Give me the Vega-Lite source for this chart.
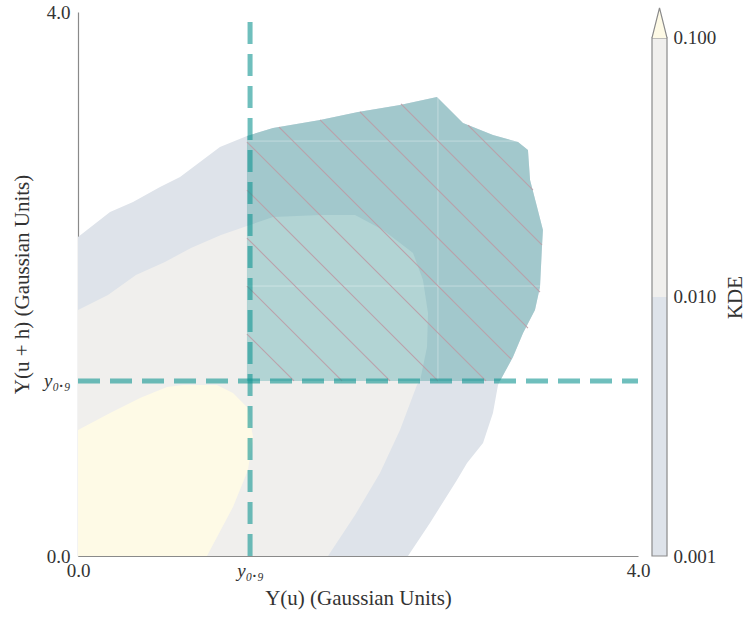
{
  "$schema": "https://vega.github.io/schema/vega-lite/v6.json",
  "width": 560,
  "height": 544,
  "autosize": "none",
  "padding": {"left": 78, "top": 12, "right": 109, "bottom": 61},
  "background": "white",
  "config": {
    "view": {"stroke": null},
    "font": "Liberation Serif",
    "axis": {
      "labelFont": "Liberation Serif",
      "titleFont": "Liberation Serif",
      "labelFontSize": 19,
      "titleFontSize": 21,
      "titleFontWeight": "normal",
      "labelColor": "#333333",
      "titleColor": "#333333",
      "domainColor": "#8a8a8a",
      "domainWidth": 1.2,
      "grid": false,
      "ticks": false,
      "zindex": 1,
      "labelFlush": false,
      "labelOverlap": false
    }
  },
  "datasets": {
    "contours": [
      {"region": "outer", "i": 0, "x": 0, "y": 0},
      {"region": "outer", "i": 1, "x": 0, "y": 2.346},
      {"region": "outer", "i": 2, "x": 0.229, "y": 2.529},
      {"region": "outer", "i": 3, "x": 0.393, "y": 2.603},
      {"region": "outer", "i": 4, "x": 0.586, "y": 2.713},
      {"region": "outer", "i": 5, "x": 0.729, "y": 2.787},
      {"region": "outer", "i": 6, "x": 1.014, "y": 3.007},
      {"region": "outer", "i": 7, "x": 1.207, "y": 3.088},
      {"region": "outer", "i": 8, "x": 1.393, "y": 3.147},
      {"region": "outer", "i": 9, "x": 1.729, "y": 3.206},
      {"region": "outer", "i": 10, "x": 2.0, "y": 3.265},
      {"region": "outer", "i": 11, "x": 2.3, "y": 3.316},
      {"region": "outer", "i": 12, "x": 2.564, "y": 3.375},
      {"region": "outer", "i": 13, "x": 2.75, "y": 3.184},
      {"region": "outer", "i": 14, "x": 2.964, "y": 3.096},
      {"region": "outer", "i": 15, "x": 3.143, "y": 3.044},
      {"region": "outer", "i": 16, "x": 3.214, "y": 2.985},
      {"region": "outer", "i": 17, "x": 3.229, "y": 2.765},
      {"region": "outer", "i": 18, "x": 3.279, "y": 2.566},
      {"region": "outer", "i": 19, "x": 3.321, "y": 2.397},
      {"region": "outer", "i": 20, "x": 3.314, "y": 2.272},
      {"region": "outer", "i": 21, "x": 3.3, "y": 1.978},
      {"region": "outer", "i": 22, "x": 3.264, "y": 1.809},
      {"region": "outer", "i": 23, "x": 3.179, "y": 1.64},
      {"region": "outer", "i": 24, "x": 3.107, "y": 1.463},
      {"region": "outer", "i": 25, "x": 3.014, "y": 1.287},
      {"region": "outer", "i": 26, "x": 3.0, "y": 1.257},
      {"region": "outer", "i": 27, "x": 2.964, "y": 1.051},
      {"region": "outer", "i": 28, "x": 2.893, "y": 0.831},
      {"region": "outer", "i": 29, "x": 2.779, "y": 0.684},
      {"region": "outer", "i": 30, "x": 2.707, "y": 0.559},
      {"region": "outer", "i": 31, "x": 2.514, "y": 0.243},
      {"region": "outer", "i": 32, "x": 2.357, "y": 0},
      {"region": "middle", "i": 0, "x": 0, "y": 0},
      {"region": "middle", "i": 1, "x": 0, "y": 1.809},
      {"region": "middle", "i": 2, "x": 0.214, "y": 1.919},
      {"region": "middle", "i": 3, "x": 0.414, "y": 2.066},
      {"region": "middle", "i": 4, "x": 0.621, "y": 2.162},
      {"region": "middle", "i": 5, "x": 0.807, "y": 2.265},
      {"region": "middle", "i": 6, "x": 1.021, "y": 2.36},
      {"region": "middle", "i": 7, "x": 1.207, "y": 2.426},
      {"region": "middle", "i": 8, "x": 1.393, "y": 2.493},
      {"region": "middle", "i": 9, "x": 1.729, "y": 2.507},
      {"region": "middle", "i": 10, "x": 1.979, "y": 2.507},
      {"region": "middle", "i": 11, "x": 2.179, "y": 2.397},
      {"region": "middle", "i": 12, "x": 2.393, "y": 2.228},
      {"region": "middle", "i": 13, "x": 2.464, "y": 2.029},
      {"region": "middle", "i": 14, "x": 2.5, "y": 1.787},
      {"region": "middle", "i": 15, "x": 2.493, "y": 1.537},
      {"region": "middle", "i": 16, "x": 2.443, "y": 1.287},
      {"region": "middle", "i": 17, "x": 2.421, "y": 1.257},
      {"region": "middle", "i": 18, "x": 2.3, "y": 0.926},
      {"region": "middle", "i": 19, "x": 2.157, "y": 0.61},
      {"region": "middle", "i": 20, "x": 1.979, "y": 0.301},
      {"region": "middle", "i": 21, "x": 1.786, "y": 0},
      {"region": "inner", "i": 0, "x": 0, "y": 0},
      {"region": "inner", "i": 1, "x": 0, "y": 0.926},
      {"region": "inner", "i": 2, "x": 0.229, "y": 1.051},
      {"region": "inner", "i": 3, "x": 0.443, "y": 1.162},
      {"region": "inner", "i": 4, "x": 0.636, "y": 1.243},
      {"region": "inner", "i": 5, "x": 0.75, "y": 1.257},
      {"region": "inner", "i": 6, "x": 0.993, "y": 1.257},
      {"region": "inner", "i": 7, "x": 1.107, "y": 1.199},
      {"region": "inner", "i": 8, "x": 1.214, "y": 1.088},
      {"region": "inner", "i": 9, "x": 1.25, "y": 0.875},
      {"region": "inner", "i": 10, "x": 1.214, "y": 0.632},
      {"region": "inner", "i": 11, "x": 1.107, "y": 0.36},
      {"region": "inner", "i": 12, "x": 0.921, "y": 0},
      {"region": "teal", "i": 0, "x": 1.207, "y": 1.287},
      {"region": "teal", "i": 1, "x": 1.207, "y": 3.088},
      {"region": "teal", "i": 2, "x": 1.393, "y": 3.147},
      {"region": "teal", "i": 3, "x": 1.729, "y": 3.206},
      {"region": "teal", "i": 4, "x": 2.0, "y": 3.265},
      {"region": "teal", "i": 5, "x": 2.3, "y": 3.316},
      {"region": "teal", "i": 6, "x": 2.564, "y": 3.375},
      {"region": "teal", "i": 7, "x": 2.75, "y": 3.184},
      {"region": "teal", "i": 8, "x": 2.964, "y": 3.096},
      {"region": "teal", "i": 9, "x": 3.143, "y": 3.044},
      {"region": "teal", "i": 10, "x": 3.214, "y": 2.985},
      {"region": "teal", "i": 11, "x": 3.229, "y": 2.765},
      {"region": "teal", "i": 12, "x": 3.279, "y": 2.566},
      {"region": "teal", "i": 13, "x": 3.321, "y": 2.397},
      {"region": "teal", "i": 14, "x": 3.314, "y": 2.272},
      {"region": "teal", "i": 15, "x": 3.3, "y": 1.978},
      {"region": "teal", "i": 16, "x": 3.264, "y": 1.809},
      {"region": "teal", "i": 17, "x": 3.179, "y": 1.64},
      {"region": "teal", "i": 18, "x": 3.107, "y": 1.463},
      {"region": "teal", "i": 19, "x": 3.014, "y": 1.287},
      {"region": "tealmid", "i": 0, "x": 1.207, "y": 1.287},
      {"region": "tealmid", "i": 1, "x": 1.207, "y": 2.426},
      {"region": "tealmid", "i": 2, "x": 1.393, "y": 2.493},
      {"region": "tealmid", "i": 3, "x": 1.729, "y": 2.507},
      {"region": "tealmid", "i": 4, "x": 1.979, "y": 2.507},
      {"region": "tealmid", "i": 5, "x": 2.179, "y": 2.397},
      {"region": "tealmid", "i": 6, "x": 2.393, "y": 2.228},
      {"region": "tealmid", "i": 7, "x": 2.464, "y": 2.029},
      {"region": "tealmid", "i": 8, "x": 2.5, "y": 1.787},
      {"region": "tealmid", "i": 9, "x": 2.493, "y": 1.537},
      {"region": "tealmid", "i": 10, "x": 2.443, "y": 1.287}
    ],
    "seams": [
      {"x": 2.571, "y": 1.287, "x2": 2.571, "y2": 3.375},
      {"x": 1.207, "y": 3.051, "x2": 3.15, "y2": 3.051},
      {"x": 1.207, "y": 1.985, "x2": 3.3, "y2": 1.985}
    ],
    "hatch": [
      {"x": 1.207, "y": 1.632, "x2": 1.543, "y2": 1.287},
      {"x": 1.207, "y": 1.985, "x2": 1.886, "y2": 1.287},
      {"x": 1.207, "y": 2.338, "x2": 2.229, "y2": 1.287},
      {"x": 1.207, "y": 2.691, "x2": 2.571, "y2": 1.287},
      {"x": 1.207, "y": 3.044, "x2": 2.914, "y2": 1.287},
      {"x": 1.436, "y": 3.154, "x2": 3.093, "y2": 1.449},
      {"x": 1.729, "y": 3.206, "x2": 3.214, "y2": 1.676},
      {"x": 2.014, "y": 3.265, "x2": 3.3, "y2": 1.941},
      {"x": 2.307, "y": 3.324, "x2": 3.314, "y2": 2.287},
      {"x": 2.786, "y": 3.169, "x2": 3.25, "y2": 2.691}
    ],
    "thresholds": [
      {"qx": 1.229, "qy": 1.287}
    ],
    "bands": [
      {"lo": 0.001, "hi": 0.01, "region": "outer"},
      {"lo": 0.01, "hi": 0.1, "region": "middle"}
    ],
    "tri": [
      {"i": 0, "cx": 0.0, "v": 0.1, "region": "inner"},
      {"i": 1, "cx": 0.5, "v": 0.1306, "region": "inner"},
      {"i": 2, "cx": 1.0, "v": 0.1, "region": "inner"}
    ]
  },
  "layer": [
    {
      "layer": [
        {
          "data": {"name": "contours"},
          "transform": [{"filter": "datum.region == 'outer'"}],
          "mark": {"type": "line", "filled": true, "strokeWidth": 0},
          "encoding": {
            "x": {
              "field": "x", "type": "quantitative",
              "scale": {"domain": [0, 4], "nice": false, "zero": false},
              "axis": {
                "title": "Y(u) (Gaussian Units)",
                "values": [0, 1.229, 4],
                "labelExpr": "datum.value == 0 ? '0.0' : datum.value == 4 ? '4.0' : 'y₀.₉'",
                "labelFontStyle": {"condition": {"test": "datum.value > 1 && datum.value < 2", "value": "italic"}, "value": "normal"},
                "labelPadding": 5,
                "titlePadding": 7
              }
            },
            "y": {
              "field": "y", "type": "quantitative",
              "scale": {"domain": [0, 4], "nice": false, "zero": false},
              "axis": {
                "title": "Y(u + h) (Gaussian Units)",
                "values": [0, 1.287, 4],
                "labelExpr": "datum.value == 0 ? '0.0' : datum.value == 4 ? '4.0' : 'y₀.₉'",
                "labelFontStyle": {"condition": {"test": "datum.value > 1 && datum.value < 2", "value": "italic"}, "value": "normal"},
                "labelPadding": 8,
                "titlePadding": 11
              }
            },
            "order": {"field": "i", "type": "quantitative"},
            "color": {
              "field": "region", "type": "nominal", "legend": null,
              "scale": {
                "domain": ["outer", "middle", "inner", "teal", "tealmid"],
                "range": ["#dee3ea", "#f0efed", "#fefae6", "#a2c8cc", "#b2d4d4"]
              }
            }
          }
        },
        {
          "data": {"name": "contours"},
          "transform": [{"filter": "datum.region == 'middle'"}],
          "mark": {"type": "line", "filled": true, "strokeWidth": 0},
          "encoding": {
            "x": {"field": "x", "type": "quantitative"},
            "y": {"field": "y", "type": "quantitative"},
            "order": {"field": "i", "type": "quantitative"},
            "color": {"field": "region", "type": "nominal", "legend": null}
          }
        },
        {
          "data": {"name": "contours"},
          "transform": [{"filter": "datum.region == 'inner'"}],
          "mark": {"type": "line", "filled": true, "strokeWidth": 0},
          "encoding": {
            "x": {"field": "x", "type": "quantitative"},
            "y": {"field": "y", "type": "quantitative"},
            "order": {"field": "i", "type": "quantitative"},
            "color": {"field": "region", "type": "nominal", "legend": null}
          }
        },
        {
          "data": {"name": "contours"},
          "transform": [{"filter": "datum.region == 'teal'"}],
          "mark": {"type": "line", "filled": true, "strokeWidth": 0},
          "encoding": {
            "x": {"field": "x", "type": "quantitative"},
            "y": {"field": "y", "type": "quantitative"},
            "order": {"field": "i", "type": "quantitative"},
            "color": {"field": "region", "type": "nominal", "legend": null}
          }
        },
        {
          "data": {"name": "contours"},
          "transform": [{"filter": "datum.region == 'tealmid'"}],
          "mark": {"type": "line", "filled": true, "strokeWidth": 0},
          "encoding": {
            "x": {"field": "x", "type": "quantitative"},
            "y": {"field": "y", "type": "quantitative"},
            "order": {"field": "i", "type": "quantitative"},
            "color": {"field": "region", "type": "nominal", "legend": null}
          }
        },
        {
          "data": {"name": "seams"},
          "mark": {"type": "rule", "color": "#ffffff", "strokeWidth": 1, "opacity": 0.35},
          "encoding": {
            "x": {"field": "x", "type": "quantitative"},
            "y": {"field": "y", "type": "quantitative"},
            "x2": {"field": "x2"},
            "y2": {"field": "y2"}
          }
        },
        {
          "data": {"name": "hatch"},
          "mark": {"type": "rule", "color": "#bb9ca6", "strokeWidth": 1.1, "opacity": 0.9},
          "encoding": {
            "x": {"field": "x", "type": "quantitative"},
            "y": {"field": "y", "type": "quantitative"},
            "x2": {"field": "x2"},
            "y2": {"field": "y2"}
          }
        },
        {
          "data": {"name": "thresholds"},
          "mark": {"type": "rule", "color": "#0f9591", "opacity": 0.6, "strokeWidth": 5, "strokeDash": [22, 10]},
          "encoding": {
            "x": {"field": "qx", "type": "quantitative"},
            "y": {"datum": 0, "type": "quantitative"},
            "y2": {"datum": 4}
          }
        },
        {
          "data": {"name": "thresholds"},
          "mark": {"type": "rule", "color": "#0f9591", "opacity": 0.6, "strokeWidth": 5, "strokeDash": [22, 10]},
          "encoding": {
            "y": {"field": "qy", "type": "quantitative"},
            "x": {"datum": 0, "type": "quantitative"},
            "x2": {"datum": 4}
          }
        }
      ]
    },
    {
      "layer": [
        {
          "data": {"name": "bands"},
          "mark": {"type": "rect"},
          "encoding": {
            "x": {"datum": 1.025, "type": "quantitative", "scale": {"domain": [0, 1], "nice": false, "zero": false}, "axis": null},
            "x2": {"datum": 1.0518},
            "y": {
              "field": "lo", "type": "quantitative",
              "scale": {"type": "log", "domain": [0.001, 0.1259], "nice": false, "zero": false},
              "axis": {
                "orient": "right",
                "values": [0.001, 0.01, 0.1],
                "format": ".3f",
                "title": "KDE",
                "offset": 29,
                "domain": false,
                "ticks": false,
                "labelPadding": 6,
                "titleAngle": 270,
                "titleX": 68,
                "titleY": 285,
                "titleAlign": "center",
                "titleBaseline": "middle"
              }
            },
            "y2": {"field": "hi"},
            "color": {"field": "region", "type": "nominal", "legend": null}
          }
        },
        {
          "data": {"name": "bands"},
          "transform": [{"aggregate": [{"op": "min", "field": "lo", "as": "lo"}, {"op": "max", "field": "hi", "as": "hi"}]}],
          "mark": {"type": "rect", "fill": null, "fillOpacity": 0, "stroke": "#8a8a8a", "strokeWidth": 1.2},
          "encoding": {
            "x": {"datum": 1.025, "type": "quantitative"},
            "x2": {"datum": 1.0518},
            "y": {"field": "lo", "type": "quantitative"},
            "y2": {"field": "hi"}
          }
        },
        {
          "data": {"name": "tri"},
          "transform": [{"calculate": "1.025 + datum.cx * 0.0268", "as": "tx"}],
          "mark": {"type": "line", "filled": true, "stroke": "#8a8a8a", "strokeWidth": 1.2},
          "encoding": {
            "x": {"field": "tx", "type": "quantitative"},
            "y": {"field": "v", "type": "quantitative"},
            "order": {"field": "i", "type": "quantitative"},
            "color": {"field": "region", "type": "nominal", "legend": null}
          }
        }
      ]
    }
  ],
  "resolve": {"scale": {"x": "independent", "y": "independent"}}
}
